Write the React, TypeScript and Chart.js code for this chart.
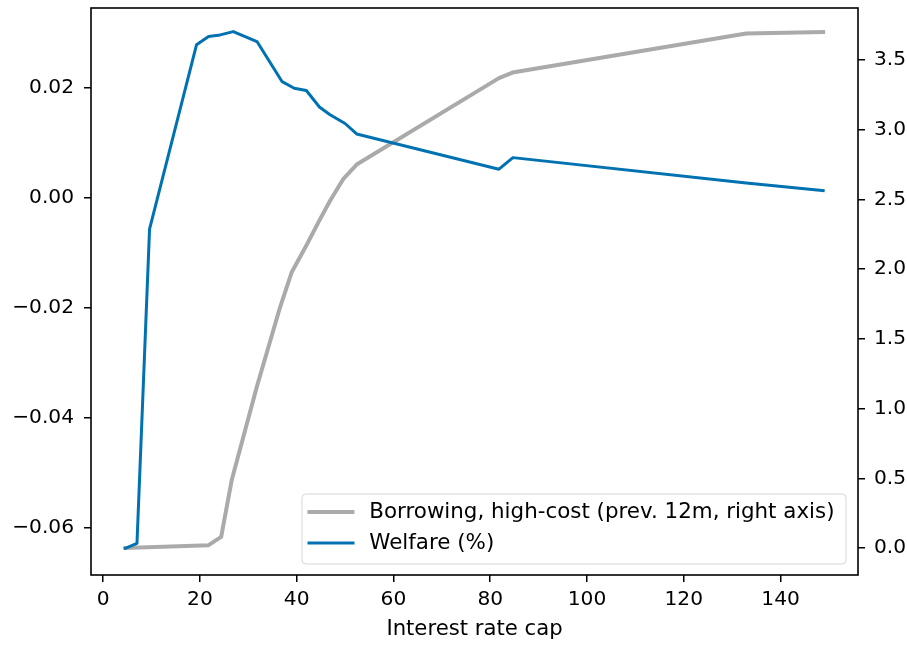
import React, { useEffect, useRef } from 'react';
import { Chart, registerables } from 'chart.js';

Chart.register(...registerables);

// ---- Data ----
const welfareX = [4.6, 7.0, 9.6, 19.3, 21.8, 24.2, 26.9, 31.8, 37.0, 39.5, 42.0, 44.7, 46.9, 50.0, 52.4, 81.8, 84.7, 132.9, 148.8];
const welfareY = [-0.0637, -0.0628, -0.0057, 0.0278, 0.0293, 0.0296, 0.0302, 0.0284, 0.0211, 0.0199, 0.0195, 0.0165, 0.0151, 0.0135, 0.0116, 0.0052, 0.0073, 0.0027, 0.0013];

const borrowX = [4.6, 21.8, 24.4, 26.6, 31.8, 36.6, 39.0, 42.0, 44.7, 46.9, 49.7, 52.4, 81.8, 84.6, 132.9, 148.8];
const borrowY = [0.0, 0.02, 0.08, 0.49, 1.16, 1.73, 1.98, 2.17, 2.35, 2.49, 2.65, 2.75, 3.37, 3.41, 3.69, 3.70];

const xTicks = [0, 20, 40, 60, 80, 100, 120, 140];
const leftTicks = [-0.06, -0.04, -0.02, 0, 0.02];
const rightTicks = [0, 0.5, 1, 1.5, 2, 2.5, 3, 3.5];

const seriesLabels = ['Borrowing, high-cost (prev. 12m, right axis)', 'Welfare (%)'];
const xTitle = 'Interest rate cap';

const BLUE = '#0072B2';
const GRAY = '#AAAAAA';
const FONT_FAMILY = '"DejaVu Sans", sans-serif';
const TICK_SIZE = 20.2;
const TEXT_SIZE = 21.2;
const LEGEND_SIZE = 21.4;

const framePlugin = {
  id: 'mplFrame',
  afterDatasetsDraw(chart: any) {
    const { ctx, chartArea: a } = chart;
    ctx.save();
    ctx.strokeStyle = '#000';
    ctx.lineWidth = 1.6;
    ctx.strokeRect(a.left, a.top, a.right - a.left, a.bottom - a.top);
    ctx.restore();
  },
};

const legendPlugin = {
  id: 'mplLegend',
  afterDraw(chart: any) {
    const { ctx, chartArea: a } = chart;
    const items = [
      { label: seriesLabels[0], color: GRAY, width: 4 },
      { label: seriesLabels[1], color: BLUE, width: 3 },
    ];
    ctx.save();
    ctx.font = `${LEGEND_SIZE}px ${FONT_FAMILY}`;
    const textW = Math.max(...items.map((it) => ctx.measureText(it.label).width));
    const textOffset = 67.3;
    const rightPad = 11.5;
    const boxW = textOffset + textW + rightPad;
    const boxH = 70;
    const right = a.right - 12;
    const bottom = a.bottom - 11;
    const left = right - boxW;
    const top = bottom - boxH;
    const r = 4;
    ctx.beginPath();
    ctx.moveTo(left + r, top);
    ctx.lineTo(right - r, top);
    ctx.quadraticCurveTo(right, top, right, top + r);
    ctx.lineTo(right, bottom - r);
    ctx.quadraticCurveTo(right, bottom, right - r, bottom);
    ctx.lineTo(left + r, bottom);
    ctx.quadraticCurveTo(left, bottom, left, bottom - r);
    ctx.lineTo(left, top + r);
    ctx.quadraticCurveTo(left, top, left + r, top);
    ctx.closePath();
    ctx.fillStyle = 'rgba(255,255,255,0.8)';
    ctx.fill();
    ctx.strokeStyle = 'rgba(204,204,204,0.8)';
    ctx.lineWidth = 1;
    ctx.stroke();
    const rowY = [top + 18, top + 49];
    items.forEach((it, i) => {
      const y = rowY[i];
      ctx.beginPath();
      ctx.strokeStyle = it.color;
      ctx.lineWidth = it.width;
      ctx.lineCap = 'butt';
      ctx.moveTo(left + 5.5, y);
      ctx.lineTo(left + 52.5, y);
      ctx.stroke();
      ctx.fillStyle = '#000';
      ctx.textBaseline = 'middle';
      ctx.textAlign = 'left';
      ctx.fillText(it.label, left + textOffset, y);
    });
    ctx.restore();
  },
};

function zeroPad(scale: any) {
  scale.paddingTop = 0;
  scale.paddingBottom = 0;
  scale.paddingLeft = 0;
  scale.paddingRight = 0;
}

export default function App() {
  const canvasRef = useRef<HTMLCanvasElement | null>(null);

  useEffect(() => {
    if (!canvasRef.current) return;
    const tickFont = { family: FONT_FAMILY, size: TICK_SIZE };
    const titleFont = { family: FONT_FAMILY, size: TEXT_SIZE };
    const gridCfg = {
      drawOnChartArea: false,
      drawTicks: true,
      tickLength: 7,
      color: '#000',
      lineWidth: 1.5,
    };
    const chart = new Chart(canvasRef.current, {
      type: 'line',
      data: {
        datasets: [
          {
            label: seriesLabels[1],
            data: welfareX.map((x, i) => ({ x, y: welfareY[i] })),
            borderColor: BLUE,
            borderWidth: 3,
            pointRadius: 0,
            tension: 0,
            yAxisID: 'y',
            order: 0,
            borderJoinStyle: 'round',
            borderCapStyle: 'square',
          },
          {
            label: seriesLabels[0],
            data: borrowX.map((x, i) => ({ x, y: borrowY[i] })),
            borderColor: GRAY,
            borderWidth: 4,
            pointRadius: 0,
            tension: 0,
            yAxisID: 'y2',
            order: 1,
            borderJoinStyle: 'round',
            borderCapStyle: 'square',
          },
        ],
      },
      options: {
        responsive: false,
        animation: false,
        events: [],
        layout: { padding: { top: 8, left: 0, right: 0, bottom: 0 } },
        plugins: {
          legend: { display: false },
          tooltip: { enabled: false },
        },
        scales: {
          x: {
            type: 'linear',
            position: 'bottom',
            min: -2.5,
            max: 156,
            afterBuildTicks: (scale: any) => {
              scale.ticks = xTicks.map((v) => ({ value: v }));
            },
            afterFit: (scale: any) => {
              scale.height = 71;
              zeroPad(scale);
            },
            ticks: {
              font: tickFont,
              color: '#000',
              padding: 6,
              maxRotation: 0,
              autoSkip: false,
              callback: (v: any) => String(v),
            },
            grid: gridCfg,
            border: { display: false },
            title: {
              display: true,
              text: xTitle,
              font: titleFont,
              color: '#000',
              padding: { top: 4, bottom: 4 },
            },
          },
          y: {
            type: 'linear',
            position: 'left',
            min: -0.06855,
            max: 0.03449,
            afterBuildTicks: (scale: any) => {
              scale.ticks = leftTicks.map((v) => ({ value: v }));
            },
            afterFit: (scale: any) => {
              scale.width = 91;
              zeroPad(scale);
            },
            ticks: {
              font: tickFont,
              color: '#000',
              padding: 10,
              autoSkip: false,
              callback: (v: any) => Number(v).toFixed(2).replace('-', '\u2212'),
            },
            grid: gridCfg,
            border: { display: false },
          },
          y2: {
            type: 'linear',
            position: 'right',
            min: -0.1937,
            max: 3.873,
            afterBuildTicks: (scale: any) => {
              scale.ticks = rightTicks.map((v) => ({ value: v }));
            },
            afterFit: (scale: any) => {
              scale.width = 49;
              zeroPad(scale);
            },
            ticks: {
              font: tickFont,
              color: '#000',
              padding: 9,
              autoSkip: false,
              callback: (v: any) => Number(v).toFixed(1),
            },
            grid: gridCfg,
            border: { display: false },
          },
        },
      },
      plugins: [framePlugin, legendPlugin],
    } as any);
    return () => chart.destroy();
  }, []);

  return (
    <div style={{ position: 'absolute', left: 0, top: 0, width: 907, height: 646, background: '#fff' }}>
      <canvas ref={canvasRef} width={907} height={646} style={{ display: 'block' }} />
    </div>
  );
}
